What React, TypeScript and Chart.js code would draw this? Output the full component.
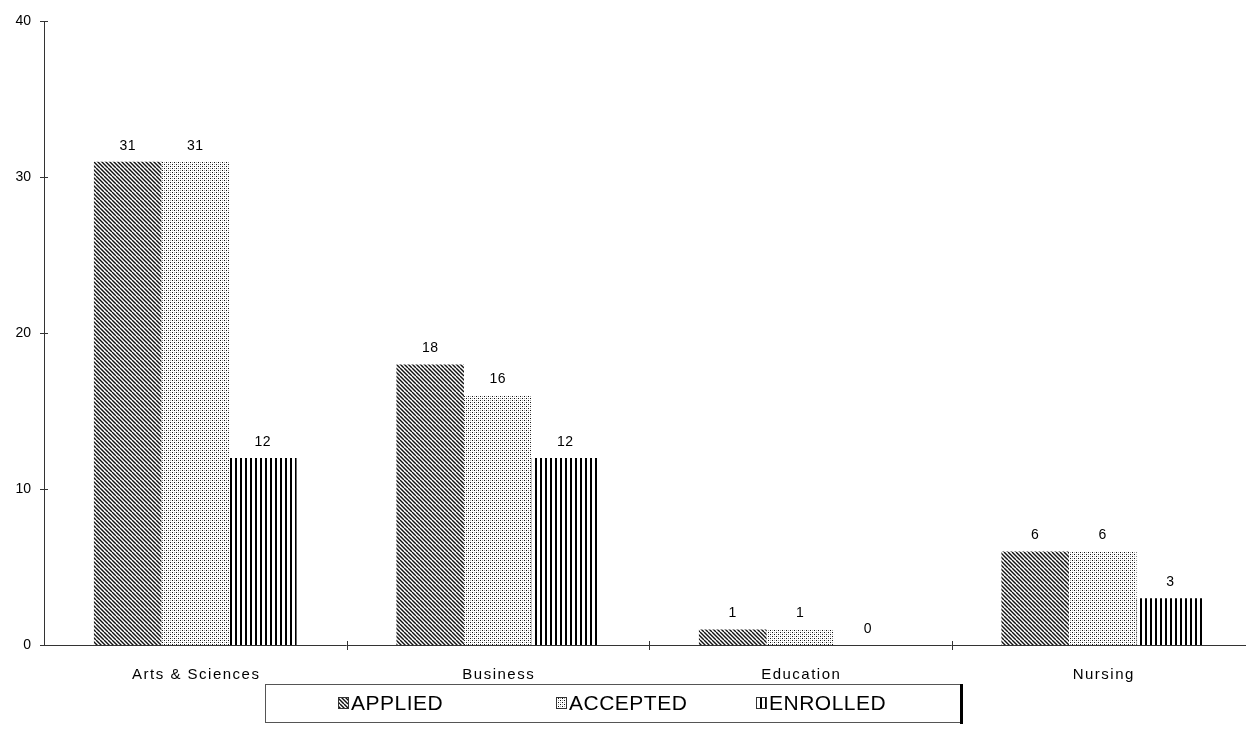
import React, { useEffect, useRef } from "react";
import { Chart, registerables } from "chart.js";

Chart.register(...registerables);

const categories = ["Arts & Sciences", "Business", "Education", "Nursing"];
const applied = [31, 18, 1, 6];
const accepted = [31, 16, 1, 6];
const enrolled = [12, 12, 0, 3];
const seriesNames = ["APPLIED", "ACCEPTED", "ENROLLED"];
const yTicks = [0, 10, 20, 30, 40];

const FONT = "'Liberation Sans', Arial, sans-serif";
const W = 1254;
const H = 755;

function makePattern(kind: string): CanvasPattern | string {
  const c = document.createElement("canvas");
  const ctx = c.getContext("2d")!;
  if (kind === "diag") {
    c.width = 8; c.height = 8;
    ctx.fillStyle = "#fff";
    ctx.fillRect(0, 0, 8, 8);
    ctx.strokeStyle = "#111";
    ctx.lineWidth = 1.4;
    for (let o = -8; o <= 8; o += 4) {
      ctx.beginPath();
      ctx.moveTo(o, 0);
      ctx.lineTo(o + 8, 8);
      ctx.stroke();
    }
  } else if (kind === "dots") {
    c.width = 4; c.height = 4;
    ctx.fillStyle = "#fff";
    ctx.fillRect(0, 0, 4, 4);
    ctx.fillStyle = "#111";
    ctx.fillRect(0, 0, 1, 1);
    ctx.fillRect(2, 2, 1, 1);
    ctx.fillStyle = "#aaa";
    ctx.fillRect(2, 0, 1, 1);
    ctx.fillRect(0, 2, 1, 1);
  } else {
    c.width = 5; c.height = 5;
    ctx.fillStyle = "#fff";
    ctx.fillRect(0, 0, 5, 5);
    ctx.fillStyle = "#000";
    ctx.fillRect(0, 0, 2, 5);
  }
  const p = ctx.createPattern(c, "repeat");
  return p || "#888";
}

export default function App() {
  const ref = useRef<HTMLCanvasElement | null>(null);
  useEffect(() => {
    if (!ref.current) return;
    const patterns = [makePattern("diag"), makePattern("dots"), makePattern("vert")];
    const dataSets = [applied, accepted, enrolled];

    const decor = {
      id: "decor",
      afterDraw(chart: any) {
        const ctx = chart.ctx as CanvasRenderingContext2D & { letterSpacing?: string };
        const xs = chart.scales.x;
        const ys = chart.scales.y;
        const area = chart.chartArea;
        ctx.save();
        // axes
        ctx.strokeStyle = "#333";
        ctx.lineWidth = 1;
        ctx.beginPath();
        ctx.moveTo(area.left + 0.5, ys.getPixelForValue(40));
        ctx.lineTo(area.left + 0.5, ys.getPixelForValue(0));
        ctx.moveTo(area.left, Math.round(ys.getPixelForValue(0)) + 0.5);
        ctx.lineTo(area.right, Math.round(ys.getPixelForValue(0)) + 0.5);
        ctx.stroke();
        // y tick crosses
        ctx.beginPath();
        yTicks.forEach((v) => {
          const y = Math.round(ys.getPixelForValue(v)) + 0.5;
          ctx.moveTo(area.left - 4, y);
          ctx.lineTo(area.left + 4, y);
        });
        // x category boundary crosses
        const y0 = Math.round(ys.getPixelForValue(0));
        for (let i = 1; i < categories.length; i++) {
          const x = Math.round((xs.getPixelForValue(i - 1) + xs.getPixelForValue(i)) / 2) + 0.5;
          ctx.moveTo(x, y0 - 4);
          ctx.lineTo(x, y0 + 5);
        }
        ctx.stroke();
        // x category labels
        ctx.fillStyle = "#000";
        ctx.textAlign = "center";
        ctx.textBaseline = "middle";
        ctx.font = `15px ${FONT}`;
        ctx.letterSpacing = "1.5px";
        categories.forEach((c, i) => {
          ctx.fillText(c, xs.getPixelForValue(i) + 1, 675);
        });
        // value labels
        ctx.letterSpacing = "0.5px";
        ctx.font = `14px ${FONT}`;
        dataSets.forEach((arr, di) => {
          const meta = chart.getDatasetMeta(di);
          meta.data.forEach((bar: any, i: number) => {
            ctx.fillText(String(arr[i]), bar.x, ys.getPixelForValue(arr[i]) - 16);
          });
        });
        // legend box
        const lx = 265, ly = 684, lw = 696, lh = 38;
        ctx.strokeStyle = "#555";
        ctx.lineWidth = 1;
        ctx.strokeRect(lx + 0.5, ly + 0.5, lw, lh);
        ctx.fillStyle = "#000";
        ctx.fillRect(lx + lw - 1, ly, 3, lh + 2);
        const items = [
          { sx: 338, tx: 351 },
          { sx: 556, tx: 569 },
          { sx: 756, tx: 769 },
        ];
        ctx.font = `21px ${FONT}`;
        ctx.letterSpacing = "0.5px";
        ctx.textAlign = "left";
        ctx.textBaseline = "middle";
        items.forEach((it, i) => {
          ctx.fillStyle = patterns[i] as any;
          ctx.fillRect(it.sx, 697, 11, 12);
          ctx.strokeStyle = "#333";
          ctx.strokeRect(it.sx + 0.5, 697.5, 10, 11);
          ctx.fillStyle = "#000";
          ctx.fillText(seriesNames[i], it.tx, 704);
        });
        ctx.restore();
      },
    };

    const chart = new Chart(ref.current, {
      type: "bar",
      data: {
        labels: categories,
        datasets: dataSets.map((d, i) => ({
          label: seriesNames[i],
          data: d,
          backgroundColor: patterns[i] as any,
          borderWidth: 0,
          categoryPercentage: 0.67,
          barPercentage: 1.0,
        })),
      },
      options: {
        animation: false,
        responsive: false,
        maintainAspectRatio: false,
        layout: { padding: { top: 19, right: 0, left: 0, bottom: 0 } },
        plugins: { legend: { display: false }, tooltip: { enabled: false } },
        scales: {
          x: {
            grid: { display: false, drawTicks: false },
            border: { display: false },
            ticks: { display: false },
            afterFit: (s: any) => { s.height = H - 645; },
          },
          y: {
            min: 0,
            max: 40,
            grid: { display: false, drawTicks: false },
            border: { display: false },
            ticks: {
              stepSize: 10,
              color: "#000",
              font: { family: FONT, size: 14 },
              padding: 13,
            },
            afterFit: (s: any) => { s.width = 44; },
          },
        },
      },
      plugins: [decor],
    });
    return () => chart.destroy();
  }, []);
  return (
    <div style={{ position: "fixed", left: 0, top: 0, width: 1246, height: 755, overflow: "hidden", background: "#fff" }}>
      <canvas ref={ref} width={W} height={H} />
    </div>
  );
}
